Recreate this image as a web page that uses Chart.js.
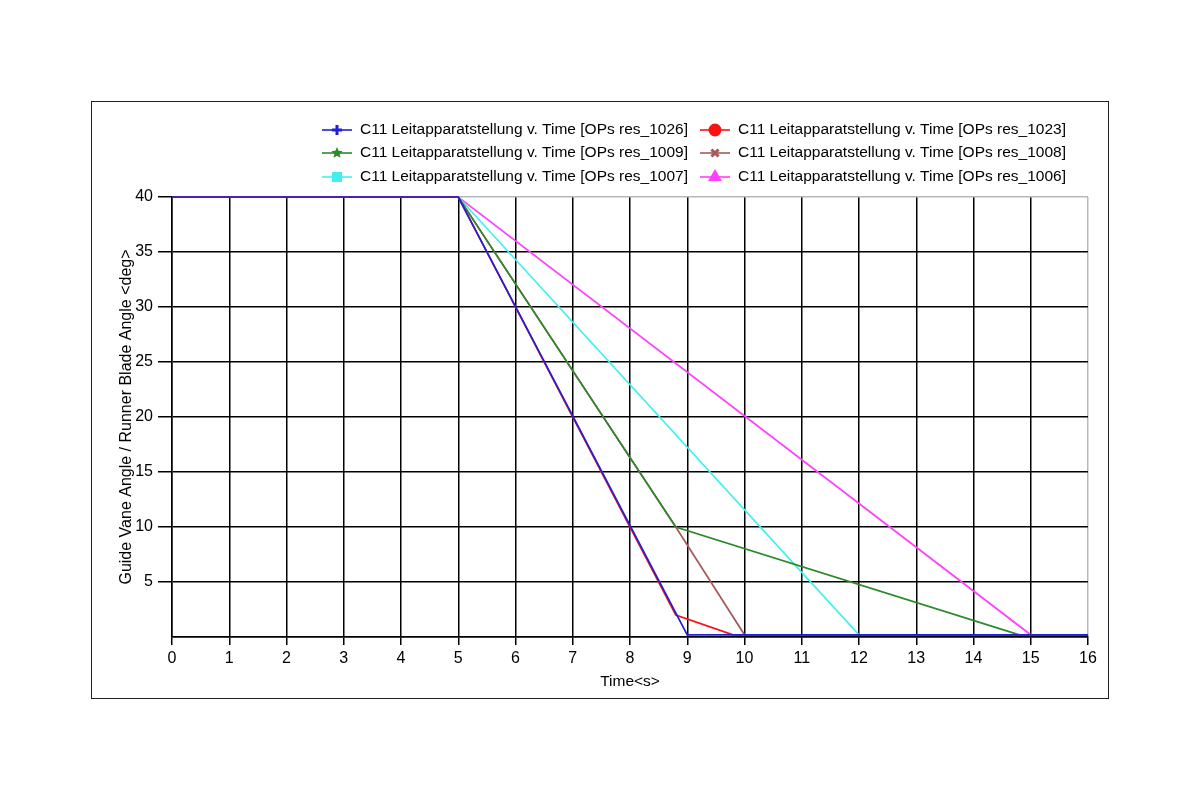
<!DOCTYPE html>
<html>
<head>
<meta charset="utf-8">
<script src="https://cdn.jsdelivr.net/npm/chart.js@4/dist/chart.umd.min.js"></script>
<style>
  body { margin: 0; background: #fff; }
  #frame { position: absolute; left: 91px; top: 101px; width: 1016px; height: 596px; border: 1px solid #222; }
</style>
</head>
<body>
<div id="frame"><canvas id="angleGraph" width="1016" height="596"></canvas></div>
<script>
// series data (time in s, angle in deg)
const seriesNames = ['res_1026', 'res_1023', 'res_1009', 'res_1008', 'res_1007', 'res_1006'];
const seriesColors = ['#2020d8', '#ff1010', '#2a8a2a', '#a85858', '#40f0f0', '#ff40ff'];
const seriesMarkers = ['cross', 'circle', 'star', 'crossRot', 'rect', 'triangle'];

const time1026 = [0, 5, 9, 16];
const angle1026 = [40, 40, 0.2, 0.2];
const time1023 = [0, 5, 8.8, 9.8, 16];
const angle1023 = [40, 40, 2, 0.2, 0.2];
const time1009 = [0, 5, 8.8, 14.8, 16];
const angle1009 = [40, 40, 10, 0.2, 0.2];
const time1008 = [0, 5, 8.8, 10, 16];
const angle1008 = [40, 40, 10, 0.2, 0.2];
const time1007 = [0, 5, 12, 16];
const angle1007 = [40, 40, 0.2, 0.2];
const time1006 = [0, 5, 15, 16];
const angle1006 = [40, 40, 0.2, 0.2];

const times = [time1026, time1023, time1009, time1008, time1007, time1006];
const angles = [angle1026, angle1023, angle1009, angle1008, angle1007, angle1006];

function toPoints(t, v) {
    return t.map((x, i) => ({ x: x, y: v[i] }));
}

function drawFilledStar(ctx, cx, cy, r) {
    ctx.beginPath();
    for (let k = 0; k < 10; k++) {
        const rad = k % 2 === 0 ? r : r * 0.45;
        const a = -Math.PI / 2 + k * Math.PI / 5;
        ctx.lineTo(cx + rad * Math.cos(a), cy + rad * Math.sin(a));
    }
    ctx.closePath();
    ctx.fill();
}

// legend with line + marker, two columns
const lineLegend = {
    id: 'lineLegend',
    afterDraw(chart) {
        const ctx = chart.ctx;
        const cols = [230, 608];
        const rows = [28, 51, 75];
        ctx.save();
        ctx.font = '15.5px "Liberation Sans", Arial, sans-serif';
        ctx.textBaseline = 'middle';
        chart.data.datasets.forEach((ds, i) => {
            const x = cols[i % 2];
            const y = rows[Math.floor(i / 2)];
            ctx.strokeStyle = ds.borderColor;
            ctx.lineWidth = 1.6;
            ctx.beginPath();
            ctx.moveTo(x, y);
            ctx.lineTo(x + 30, y);
            ctx.stroke();
            ctx.fillStyle = ds.borderColor;
            if (seriesMarkers[i] === 'star') {
                drawFilledStar(ctx, x + 15, y, 6);
            } else {
                ctx.lineWidth = 3;
                Chart.helpers.drawPoint(ctx, { pointStyle: seriesMarkers[i], radius: 5, rotation: 0, borderWidth: 3 }, x + 15, y);
            }
            ctx.fillStyle = '#000';
            ctx.fillText(ds.label, x + 38, y);
        });
        ctx.restore();
    }
};

const angleGraph = document.getElementById('angleGraph');

new Chart(angleGraph, {
    type: 'scatter',
    data: {
        datasets: seriesNames.map((name, i) => ({
            label: 'C11 Leitapparatstellung v. Time [OPs ' + name + ']',
            data: toPoints(times[i], angles[i]),
            showLine: true,
            borderColor: seriesColors[i],
            backgroundColor: seriesColors[i],
            borderWidth: 1.7,
            pointRadius: 0,
            tension: 0,
            clip: 4
        }))
    },
    options: {
        responsive: false,
        animation: false,
        layout: { padding: { top: 95, right: 20, left: 0, bottom: 0 } },
        plugins: {
            legend: { display: false },
            tooltip: { enabled: false }
        },
        scales: {
            x: {
                type: 'linear',
                min: 0,
                max: 16,
                afterFit: (scale) => { scale.height = 61; },
                ticks: {
                    stepSize: 1,
                    color: '#000',
                    padding: 4,
                    font: { family: '"Liberation Sans", Arial', size: 16 }
                },
                grid: {
                    color: (c) => c.tick && c.tick.value === 16 ? '#b8b8b8' : '#000',
                    tickColor: '#000',
                    lineWidth: 1.5,
                    tickLength: 8
                },
                border: { color: '#000', width: 1.5 },
                title: {
                    display: true,
                    text: 'Time<s>',
                    color: '#000',
                    padding: { top: 0, bottom: 7 },
                    font: { family: '"Liberation Sans", Arial', size: 15.5 }
                }
            },
            y: {
                min: 0,
                max: 40,
                afterFit: (scale) => { scale.width = 80; },
                ticks: {
                    stepSize: 5,
                    color: '#000',
                    padding: 5,
                    callback: (v) => v === 0 ? '' : v,
                    font: { family: '"Liberation Sans", Arial', size: 16 }
                },
                grid: {
                    color: (c) => c.tick && c.tick.value === 40 ? '#b8b8b8' : '#000',
                    tickColor: (c) => c.tick && c.tick.value === 0 ? 'rgba(0,0,0,0)' : '#000',
                    lineWidth: 1.5,
                    tickLength: 14
                },
                border: { color: '#000', width: 1.5 },
                title: {
                    display: true,
                    text: 'Guide Vane Angle / Runner Blade Angle <deg>',
                    color: '#000',
                    padding: { top: 25, bottom: 0 },
                    font: { family: '"Liberation Sans", Arial', size: 16 }
                }
            }
        }
    },
    plugins: [lineLegend]
});
</script>
</body>
</html>
